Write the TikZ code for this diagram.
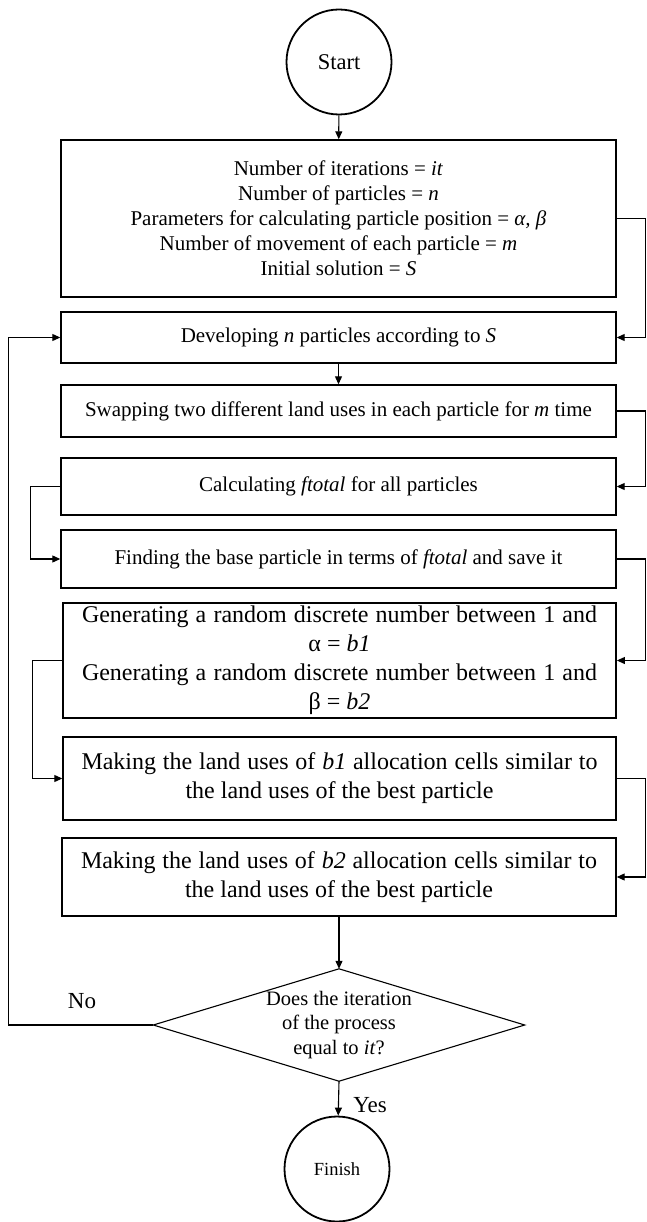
\documentclass[tikz,border=0pt]{standalone}
\usepackage{fontspec}
\setmainfont{Liberation Serif}
\usetikzlibrary{arrows.meta}
\begin{document}
\begin{tikzpicture}[x=1pt,y=-1pt,
  box/.style={draw, line width=1.4pt, inner sep=0pt, minimum width=555pt, align=center},
  fA/.style={font=\fontsize{21}{25}\selectfont},
  fB/.style={font=\fontsize{24}{29}\selectfont},
  conn/.style={line width=1.1pt},
  arr/.style={conn, -{Triangle[length=8pt,width=7pt]}},
  term/.style={draw, circle, line width=1.8pt, minimum size=105pt, inner sep=0pt}]
\useasboundingbox (0,0) rectangle (646,1222);

\node[term, font=\fontsize{22.5}{26}\selectfont] (start) at (339,62) {Start};

\node[box, fA, minimum height=157pt] (b1) at (338.5,218.5)
  {Number of iterations = \textit{it}\\
   Number of particles = \textit{n}\\
   Parameters for calculating particle position = \textit{α, β}\\
   Number of movement of each particle = \textit{m}\\
   Initial solution = \textit{S}};

\node[box, fA, minimum height=51pt] (b2) at (338.5,337.5)
  {Developing \textit{n} particles according to \textit{S}};

\node[box, fA, minimum height=52pt] (b3) at (338.5,411)
  {Swapping two different land uses in each particle for \textit{m} time};

\node[box, fA, minimum height=57pt] (b4) at (338.5,486.5)
  {Calculating \textit{ftotal} for all particles};

\node[box, fA, minimum height=58pt] (b5) at (338.5,559)
  {Finding the base particle in terms of \textit{ftotal} and save it};

\node[box, fB, line width=1.8pt, minimum width=553pt, minimum height=115pt] (b6) at (339.5,660.5)
  {\makebox[515pt][s]{Generating a random discrete number between 1 and}\\
   α = \textit{b1}\\
   \makebox[515pt][s]{Generating a random discrete number between 1 and}\\
   β = \textit{b2}};

\node[box, fB, minimum width=553pt, minimum height=83pt] (b7) at (339.5,778.5)
  {\makebox[516pt][s]{Making the land uses of \textit{b1} allocation cells similar to}\\
   the land uses of the best particle};

\node[box, fB, minimum width=554pt, minimum height=78pt] (b8) at (339,877)
  {\makebox[516pt][s]{Making the land uses of \textit{b2} allocation cells similar to}\\
   the land uses of the best particle};

\node[inner sep=0pt, minimum width=371pt, minimum height=112pt, align=center,
      font=\fontsize{20.5}{24.5}\selectfont] (dia) at (339,1025)
  {Does the iteration\\ of the process\\ equal to \textit{it}?};
\draw[line width=1.1pt] (dia.north) -- (dia.east) -- (dia.south) -- (dia.west) -- cycle;

\node[term, font=\fontsize{18.5}{22}\selectfont] (finish) at (337,1169) {Finish};

\node[font=\fontsize{23}{26}\selectfont] (no) at (82,1001) {No};
\node[font=\fontsize{23}{26}\selectfont] (yes) at (370,1105) {Yes};

% main flow
\draw[arr] (start) -- (b1);
\draw[arr] (b2) -- (b3);
\draw[arr] (b8) -- (dia.north);
\draw[arr] (dia.south) -- (finish);

% right-side brackets
\draw[arr] (b1.east) -- ++(29,0) |- (b2.east);
\draw[arr] (b3.east) -- ++(29,0) |- (b4.east);
\draw[arr] (b5.east) -- ++(29,0) |- (b6.east);
\draw[arr] (b7.east) -- ++(29,0) |- (b8.east);

% left-side brackets
\draw[arr] (b4.west) -- ++(-30,0) |- (b5.west);
\draw[arr] (b6.west) -- ++(-30,0) |- (b7.west);

% loop back
\draw[arr] (dia.west) -- ++(-145,0) |- (b2.west);
\end{tikzpicture}
\end{document}
